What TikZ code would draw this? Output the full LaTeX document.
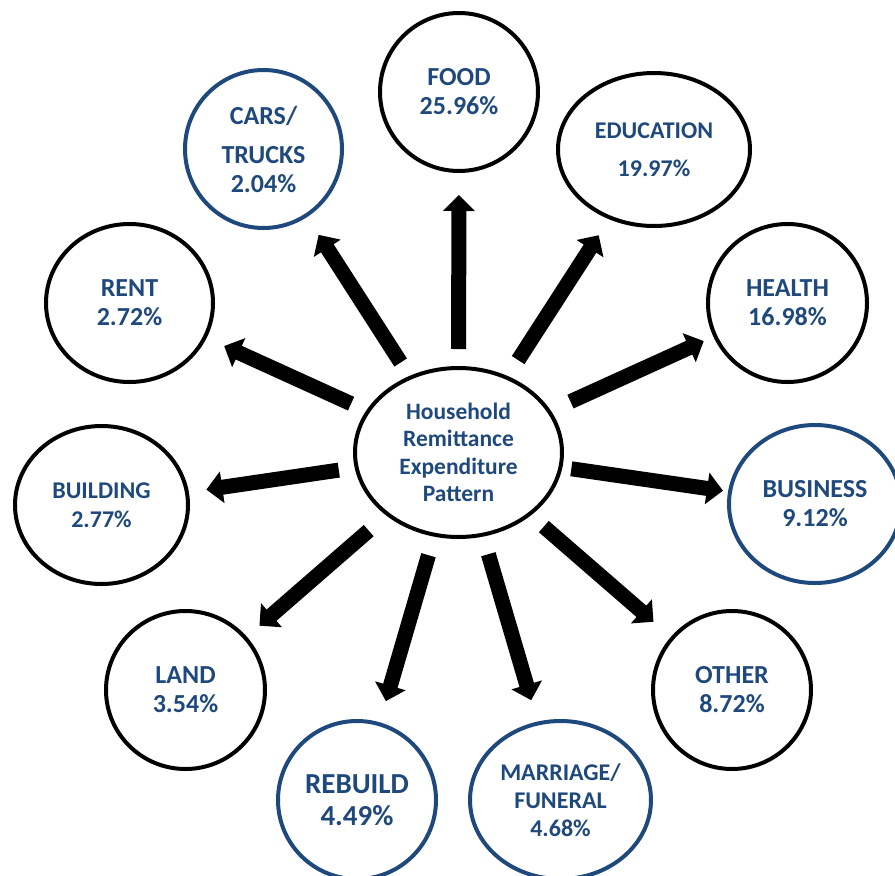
\documentclass[tikz,border=0pt]{standalone}
\usepackage{fontspec}
\setmainfont{Carlito}
\usetikzlibrary{arrows.meta,shapes.geometric}
\definecolor{txtblue}{HTML}{1F497D}
\begin{document}
\begin{tikzpicture}[x=1pt,y=-1pt,
  spot/.style={shape=ellipse,draw=black,line width=4pt,inner sep=0pt,align=center,text=txtblue,font=\bfseries\fontsize{26}{29}\selectfont},
  spotB/.style={spot,draw=txtblue},
  spotS/.style={spot,font=\bfseries\fontsize{23.5}{27.5}\selectfont},
  arr/.style={line width=15pt,-{Triangle[width=31pt,length=16pt]}}]
\useasboundingbox (0,0) rectangle (895,876);

\node[spotS,minimum width=207pt,minimum height=169pt] (H) at (458.5,452.5) {Household\\Remittance\\Expenditure\\Pattern};

\node[spot,minimum width=158pt,minimum height=158pt] (food) at (459,92) {FOOD\\25.96\%};
\draw[arr,shorten <=103.5pt,shorten >=103pt] (H.center) -- (food.center);

\node[spot,font=\bfseries\fontsize{24}{29}\selectfont,minimum width=192pt,minimum height=153pt] (edu) at (654,149.5) {EDUCATION\\[9pt]19.97\%};
\draw[arr,shorten <=110pt,shorten >=102pt] (H.center) -- (edu.center);

\node[spot,minimum width=159pt,minimum height=158pt] (health) at (787.5,303) {HEALTH\\16.98\%};
\draw[arr,shorten <=123pt,shorten >=92pt] (H.center) -- (health.center);

\node[spotB,minimum width=172pt,minimum height=158pt] (bus) at (815,504) {BUSINESS\\9.12\%};
\draw[arr,shorten <=114pt,shorten >=93pt] (H.center) -- (bus.center);

\node[spot,minimum width=158pt,minimum height=158pt] (other) at (732,690) {OTHER\\8.72\%};
\draw[arr,shorten <=113pt,shorten >=104pt] (H.center) -- (other.center);

\node[spotB,font=\bfseries\fontsize{24}{28}\selectfont,minimum width=181pt,minimum height=158pt] (marr) at (560.5,800) {MARRIAGE/\\FUNERAL\\4.68\%};
\draw[arr,shorten <=106pt,shorten >=104pt] (H.center) -- (marr.center);

\node[spotB,font=\bfseries\fontsize{29}{32}\selectfont,minimum width=158pt,minimum height=158pt] (rebuild) at (357,800) {REBUILD\\4.49\%};
\draw[arr,shorten <=107pt,shorten >=103pt] (H.center) -- (rebuild.center);

\node[spot,minimum width=159pt,minimum height=158pt] (land) at (185.5,690) {LAND\\3.54\%};
\draw[arr,shorten <=119pt,shorten >=98pt] (H.center) -- (land.center);

\node[spot,font=\bfseries\fontsize{24}{29}\selectfont,minimum width=173pt,minimum height=158pt] (build) at (101.5,505) {BUILDING\\2.77\%};
\draw[arr,shorten <=121pt,shorten >=106pt] (H.center) -- (build.center);

\node[spot,minimum width=167pt,minimum height=158pt] (rent) at (129.5,303) {RENT\\2.72\%};
\draw[arr,shorten <=118pt,shorten >=104pt] (H.center) -- (rent.center);

\node[spotB,minimum width=157pt,minimum height=158pt] (cars) at (263.5,149) {CARS/\\[10pt]TRUCKS\\2.04\%};
\draw[arr,shorten <=107pt,shorten >=102pt] (H.center) -- (cars.center);
\end{tikzpicture}
\end{document}
